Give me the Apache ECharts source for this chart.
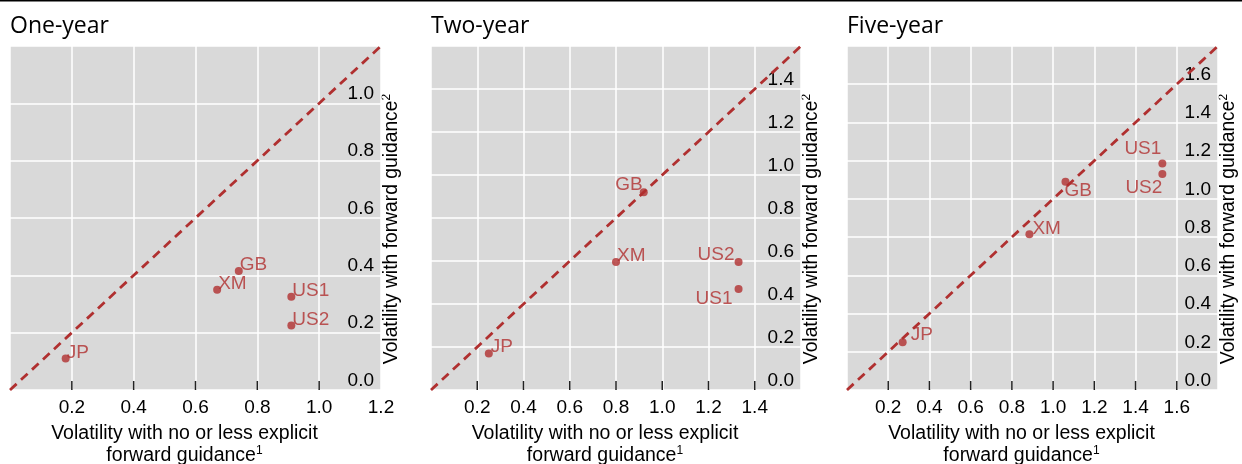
<!DOCTYPE html>
<html><head><meta charset="utf-8">
<script src="https://cdn.jsdelivr.net/npm/echarts@6/dist/echarts.min.js"></script>
<style>html,body{margin:0;padding:0;background:#fff}#c{width:1242px;height:464px}</style>
</head><body><div id="c"></div>
<script>
// ---- data ----
const panelTitles = ['One-year', 'Two-year', 'Five-year'];
const countries = ['JP', 'XM', 'GB', 'US1', 'US2'];
const oneYearX  = [0.18, 0.67, 0.74, 0.91, 0.91];
const oneYearY  = [0.11, 0.35, 0.415, 0.325, 0.225];
const twoYearX  = [0.25, 0.80, 0.92, 1.33, 1.33];
const twoYearY  = [0.17, 0.595, 0.92, 0.47, 0.595];
const fiveYearX = [0.27, 0.885, 1.06, 1.53, 1.53];
const fiveYearY = [0.25, 0.815, 1.09, 1.185, 1.13];
const axisMax = [1.2, 1.6, 1.8];
const xTickLabels = [
  [0.2, 0.4, 0.6, 0.8, 1.0, 1.2],
  [0.2, 0.4, 0.6, 0.8, 1.0, 1.2, 1.4],
  [0.2, 0.4, 0.6, 0.8, 1.0, 1.2, 1.4, 1.6]
];
const xTickMarks = [
  [0.2, 0.4, 0.6, 0.8, 1.0],
  [0.2, 0.4, 0.6, 0.8, 1.0, 1.2, 1.4],
  [0.2, 0.4, 0.6, 0.8, 1.0, 1.2, 1.4, 1.6]
];
const yTickLabels = [
  [0.0, 0.2, 0.4, 0.6, 0.8, 1.0],
  [0.0, 0.2, 0.4, 0.6, 0.8, 1.0, 1.2, 1.4],
  [0.0, 0.2, 0.4, 0.6, 0.8, 1.0, 1.2, 1.4, 1.6]
];
const xAxisName = 'Volatility with no or less explicit\nforward guidance{sup|1}';
const yAxisName = 'Volatility with forward guidance{sup|2}';

const panelX = [oneYearX, twoYearX, fiveYearX];
const panelY = [oneYearY, twoYearY, fiveYearY];

// ---- styles / layout ----
const RED = '#b03030';
const ARIAL = '"Liberation Sans", Arial, sans-serif';
const grids = [
  {left: 10, top: 46, width: 371, height: 344},
  {left: 431, top: 46, width: 370, height: 344},
  {left: 847, top: 46, width: 371, height: 344}
];
// label placement relative to point centre: [align, dx, dy]
const labelPlace = [
  {JP: ['left', 1, -6], XM: ['left', 1, -6], GB: ['left', 1, -6], US1: ['left', 1, -6], US2: ['left', 1, -6]},
  {JP: ['left', 2, -7], XM: ['left', 1, -6], GB: ['right', -1, -7], US1: ['right', -6, 10], US2: ['right', -4, -7]},
  {JP: ['left', 8, -7], XM: ['left', 3, -5], GB: ['left', -1, 9], US1: ['right', -1, -15], US2: ['right', 0, 14]}
];
const TICK_LEN = 9;
const fmt = v => Number(v).toFixed(1);

const option = {
  animation: false,
  backgroundColor: '#fff',
  title: panelTitles.map((t, i) => ({
    text: t, left: grids[i].left, top: 15, padding: 0,
    textStyle: {fontFamily: '"Open Sans", "Noto Sans", sans-serif', fontSize: 23, fontWeight: 'normal', color: '#000'}
  })),
  grid: grids.map(g => Object.assign({show: true, backgroundColor: '#d9d9d9', borderWidth: 0}, g)),
  xAxis: grids.map((g, i) => ({
    gridIndex: i, type: 'value', min: 0, max: axisMax[i], interval: 0.2,
    axisLine: {show: false},
    axisTick: {show: false},
    axisLabel: {customValues: xTickLabels[i], formatter: fmt, fontSize: 19, fontFamily: ARIAL, color: '#000', margin: 8},
    splitLine: {show: true, lineStyle: {color: '#fff', width: 1.5}}
  })),
  yAxis: grids.map((g, i) => ({
    gridIndex: i, type: 'value', position: 'right', min: 0, max: axisMax[i], interval: 0.2,
    axisLine: {show: false},
    axisTick: {show: false},
    axisLabel: {inside: true, customValues: yTickLabels[i], formatter: fmt, verticalAlign: 'bottom', margin: 7,
      fontSize: 19, fontFamily: ARIAL, color: '#000'},
    splitLine: {show: true, lineStyle: {color: '#fff', width: 1.5}}
  })),
  series: [],
  graphic: []
};

grids.forEach((g, i) => {
  // inward tick marks on the x axis, positioned through the axis scale
  option.series.push({
    type: 'custom', xAxisIndex: i, yAxisIndex: i, silent: true, z: 2,
    data: xTickMarks[i].map(v => [v, 0]),
    renderItem: (params, api) => {
      const p = api.coord([api.value(0), api.value(1)]);
      return {type: 'line', shape: {x1: p[0], y1: p[1], x2: p[0], y2: p[1] - TICK_LEN},
        style: {stroke: '#222', lineWidth: 1.5}};
    }
  });
  option.series.push({
    type: 'line', xAxisIndex: i, yAxisIndex: i, silent: true, symbol: 'none',
    data: [[0, 0], [axisMax[i], axisMax[i]]],
    lineStyle: {color: RED, width: 2.8, type: [9, 6]}, z: 3
  });
  option.series.push({
    type: 'scatter', xAxisIndex: i, yAxisIndex: i, symbolSize: 8, z: 4,
    itemStyle: {color: RED},
    data: countries.map((c, k) => {
      const p = labelPlace[i][c];
      return {
        name: c, value: [panelX[i][k], panelY[i][k]],
        label: {show: true, position: 'inside', formatter: '{b}', align: p[0], verticalAlign: 'middle',
          offset: [p[1], p[2]], color: RED, fontSize: 19, fontFamily: ARIAL, textBorderWidth: 0}
      };
    })
  });
  const cx = g.left + g.width / 2 - 11;
  option.graphic.push({
    type: 'text', x: cx, y: 445, silent: true,
    style: {text: xAxisName, align: 'center', verticalAlign: 'middle', fill: '#000',
      fontSize: 19.5, fontFamily: ARIAL, lineHeight: 22,
      rich: {sup: {fontSize: 12, lineHeight: 12, verticalAlign: 'top', fontFamily: ARIAL, fill: '#000'}}}
  });
  option.graphic.push({
    type: 'text', x: g.left + g.width + 11, y: 229, rotation: Math.PI / 2, silent: true,
    style: {text: yAxisName, align: 'center', verticalAlign: 'middle', fill: '#000',
      fontSize: 19.3, fontFamily: ARIAL, lineHeight: 22,
      rich: {sup: {fontSize: 12, lineHeight: 12, verticalAlign: 'top', fontFamily: ARIAL, fill: '#000'}}}
  });
});
option.graphic.push({type: 'rect', shape: {x: 0, y: 0, width: 1242, height: 1.5}, style: {fill: '#000'}, silent: true});

const chart = echarts.init(document.getElementById('c'), null, {renderer: 'canvas'});
chart.setOption(option);
</script></body></html>
